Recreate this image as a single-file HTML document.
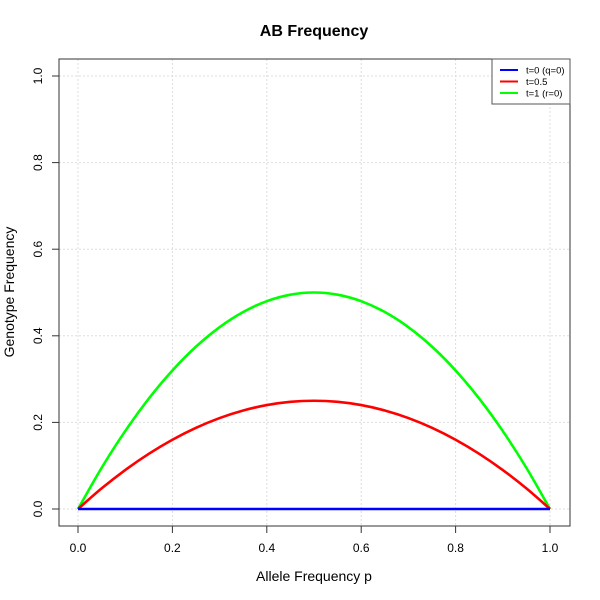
<!DOCTYPE html>
<html><head><meta charset="utf-8"><style>
body{margin:0;background:#fff}
svg{display:block;font-family:"Liberation Sans",sans-serif}
</style></head><body>
<svg id="chart" width="600" height="600">
<text x="314" y="36" text-anchor="middle" font-size="16" font-weight="bold">AB Frequency</text>
<text x="314" y="581" text-anchor="middle" font-size="14">Allele Frequency p</text>
<text transform="translate(14,292) rotate(-90)" text-anchor="middle" font-size="14">Genotype Frequency</text>
<g id="grid"></g><g id="axes"></g><g id="series"></g>
<rect x="59" y="59" width="511" height="467" fill="none" stroke="#333"/>
<g>
<rect x="492" y="59" width="78" height="45" fill="#fff" stroke="#555"/>
<line x1="500" x2="518" y1="70" y2="70" stroke="#00f" stroke-width="2"/>
<text x="526" y="73.5" font-size="9.5">t=0 (q=0)</text>
<line x1="500" x2="518" y1="81.5" y2="81.5" stroke="#f00" stroke-width="2"/>
<text x="526" y="85" font-size="9.5">t=0.5</text>
<line x1="500" x2="518" y1="93" y2="93" stroke="#0f0" stroke-width="2"/>
<text x="526" y="96.5" font-size="9.5">t=1 (r=0)</text>
</g>
</svg>
<script>
const pValues=[0,0.05,0.1,0.15,0.2,0.25,0.3,0.35,0.4,0.45,0.5,0.55,0.6,0.65,0.7,0.75,0.8,0.85,0.9,0.95,1];
const seriesT0=[0,0,0,0,0,0,0,0,0,0,0,0,0,0,0,0,0,0,0,0,0];
const seriesT05=[0,0.0475,0.09,0.1275,0.16,0.1875,0.21,0.2275,0.24,0.2475,0.25,0.2475,0.24,0.2275,0.21,0.1875,0.16,0.1275,0.09,0.0475,0];
const seriesT1=[0,0.095,0.18,0.255,0.32,0.375,0.42,0.455,0.48,0.495,0.5,0.495,0.48,0.455,0.42,0.375,0.32,0.255,0.18,0.095,0];
const xTicks=[0,0.2,0.4,0.6,0.8,1];
const xTickLabels=["0.0","0.2","0.4","0.6","0.8","1.0"];
const yTicks=[0,0.2,0.4,0.6,0.8,1];
const yTickLabels=["0.0","0.2","0.4","0.6","0.8","1.0"];
const NS="http://www.w3.org/2000/svg";
const X=v=>78+v*472, Y=v=>509-v*433;
function mk(t,a,p){const e=document.createElementNS(NS,t);for(const k in a)e.setAttribute(k,a[k]);p.appendChild(e);return e;}
const grid=document.getElementById('grid'),axes=document.getElementById('axes'),ser=document.getElementById('series');
xTicks.forEach((v,i)=>{
 const g=mk('line',{x1:X(v),x2:X(v),y1:59,y2:526,stroke:'#ddd','stroke-dasharray':'2,2'},grid);
 
 
 const t=mk('line',{x1:X(v),x2:X(v),y1:526,y2:533,stroke:'#333'},axes);
 
 
 const l=mk('text',{x:X(v),y:552,'text-anchor':'middle','font-size':12},axes);l.textContent=xTickLabels[i];
 
 
});
yTicks.forEach((v,i)=>{
 const g=mk('line',{x1:59,x2:570,y1:Y(v),y2:Y(v),stroke:'#ddd','stroke-dasharray':'2,2'},grid);
 
 
 const t=mk('line',{x1:52,x2:59,y1:Y(v),y2:Y(v),stroke:'#333'},axes);
 
 
 const l=mk('text',{transform:`translate(42,${Y(v)}) rotate(-90)`,'text-anchor':'middle','font-size':12},axes);l.textContent=yTickLabels[i];
 
 
});
function line(vals,col,name){
 const pts=vals.map((v,i)=>[X(pValues[i]),Y(v)]);
 let d='M'+pts[0][0]+','+pts[0][1];
 for(let i=0;i<pts.length-1;i++){
  const p0=pts[i-1]||pts[i],p1=pts[i],p2=pts[i+1],p3=pts[i+2]||p2;
  const c1=[p1[0]+(p2[0]-p0[0])/6,p1[1]+(p2[1]-p0[1])/6];
  const c2=[p2[0]-(p3[0]-p1[0])/6,p2[1]-(p3[1]-p1[1])/6];
  d+='C'+c1[0]+','+c1[1]+' '+c2[0]+','+c2[1]+' '+p2[0]+','+p2[1];
 }
 const p=mk('path',{d:d,fill:'none',stroke:col,'stroke-width':2.6,'stroke-linejoin':'round'},ser);
 
 
}
line(seriesT1,'#0f0','line-t1');
line(seriesT05,'#f00','line-t05');
line(seriesT0,'#00f','line-t0');
</script>
</body></html>
